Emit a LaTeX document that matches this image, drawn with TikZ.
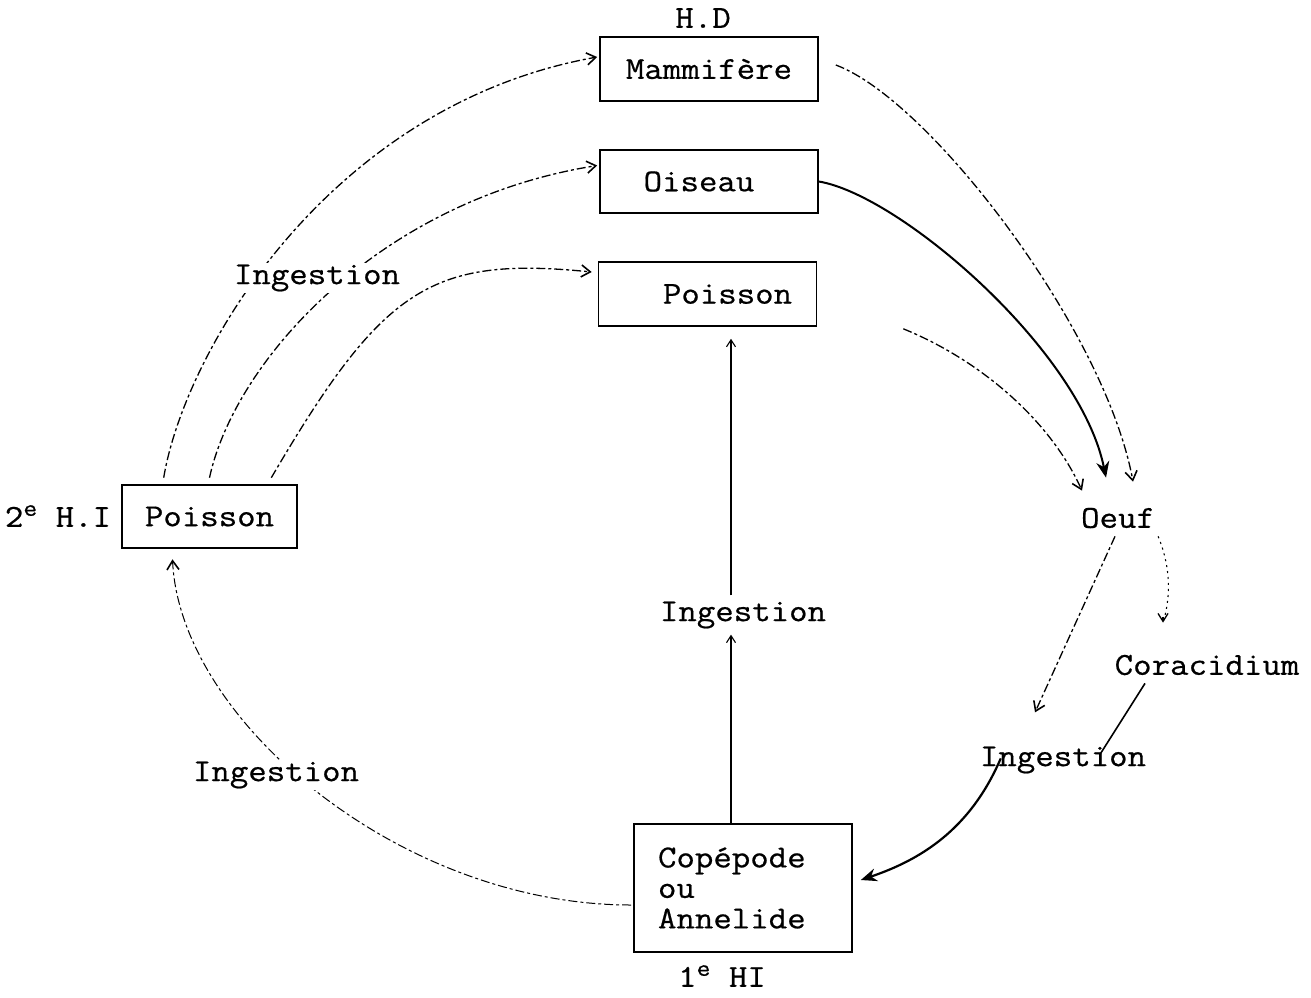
\documentclass[tikz,border=0pt]{standalone}
\usepackage{fontspec}
\setmainfont{Latin Modern Mono}[FakeStretch=1.12,FakeBold=0.6]
\usetikzlibrary{arrows.meta,calc}
\newcommand{\supe}{\raisebox{11pt}{\fontsize{24}{24}\selectfont e}}
\begin{document}
\begin{tikzpicture}[x=1pt,y=-1pt,
  every node/.style={font=\fontsize{32}{30.5}\selectfont, inner sep=0pt},
  box/.style={draw, line width=1.6pt, minimum width=218pt, minimum height=64pt},
  faint/.style={line width=1.3pt, dash pattern=on 9pt off 3pt on 3pt off 3pt, -{Straight Barb[length=9pt,width=12pt,line width=1.6pt]}},
  dotty/.style={line width=1.1pt, dash pattern=on 2pt off 4pt},
  solidarrow/.style={line width=2.2pt, -{Stealth[length=16pt,width=13pt]}},
  thinarrow/.style={line width=1.1pt, -{Straight Barb[length=7pt,width=9pt,line width=1.1pt]}}]
\useasboundingbox (0,0) rectangle (1311,997);

% boxes
\node[box] (mam) at (709,69) {Mammifère};
\node[box, minimum height=63pt] (ois) at (709,181.5) {Oiseau\hspace*{20pt}};
\node[box] (pt) at (707.5,294) {\hspace*{40pt}Poisson};
\node[box, line width=2.6pt, minimum width=175pt, minimum height=63pt] (lp) at (209.5,516.5) {Poisson};
\node[box, minimum height=128pt, text width=170pt, align=left] (cop) at (743,888) {Copépode\\ou\\Annelide};

% labels
\node (hd) at (703,18) {H.D};
\node (hi2) at (58,516) {2\supe{} H.I};
\node (hi1) at (722,976) {1\supe{} HI};
\node (oeuf) at (1118,518) {Oeuf};
\node (corac) at (1207,665) {Coracidium};
\node[inner sep=4pt] (ingR) at (1063,760) {Ingestion};
\node[inner sep=6pt] (ingM) at (743,615) {Ingestion};
\node (ingTL) at (317,278) {Ingestion};
\node (ingBL) at (276,775) {Ingestion};
\coordinate (vx) at (731,0);

% central vertical arrows
\draw[thinarrow] (vx |- cop.north) -- (vx |- ingM.south);
\draw[thinarrow, shorten >=12pt] (vx |- ingM.north) -- (vx |- pt.south);

% hosts to Oeuf
\draw[faint] ($(mam.east)+(17,-4)$) .. controls (930,100) and (1105,330) .. ($(oeuf.north)+(15,-26)$);
\draw[solidarrow, line width=2pt] (ois.east) .. controls (900,195) and (1080,350) .. ($(oeuf.north)+(-12,-30)$);
\draw[faint] ($(pt.south east)+(86,2)$) .. controls (980,360) and (1050,420) .. ($(oeuf.north)+(-36,-17)$);

% Oeuf to coracidium / ingestion
\draw[faint] ($(oeuf.south)+(-3,8)$) -- ($(ingR.north)+(-28,-30)$);
\draw[dotty] ($(oeuf.south east)+(3,8)$) .. controls (1172,570) and (1170,600) .. ($(corac.north)+(-44,-32)$);
\draw[line width=1.3pt, -{Straight Barb[length=8pt,width=10pt,line width=1.3pt]}] ($(corac.north)+(-44,-38)$) -- ($(corac.north)+(-44,-32)$);
\draw[line width=1.6pt] ($(corac.south)+(-62,8)$) -- ($(ingR.north)+(37,12)$);
\draw[solidarrow] ($(ingR.north west)+(25,16)$) .. controls (970,830) and (920,860) .. ($(cop.east)+(8,-8)$);

% left Poisson to top hosts
\draw[faint] ($(lp.north west)+(43,-6)$) .. controls (185,350) and (330,105) .. ($(mam.west)+(-2,-12)$);
\draw[faint] ($(lp.north)+(0,-6)$) .. controls (235,360) and (380,200) .. ($(ois.west)+(-2,-16)$);
\draw[faint] ($(lp.north east)+(-27,-6)$) .. controls (383,287) and (431,256) .. ($(pt.west)+(-6,-22)$);

% copepode to left Poisson
\draw[faint, line width=1pt] ($(cop.west)+(-2,17)$) .. controls (400,905) and (180,720) .. ($(lp.south)+(-37,10)$);

% cover labels over lines
\node[fill=white, inner sep=2pt] at (ingTL) {Ingestion};
\node[fill=white, inner sep=2pt] at (ingBL) {Ingestion};
\end{tikzpicture}
\end{document}
